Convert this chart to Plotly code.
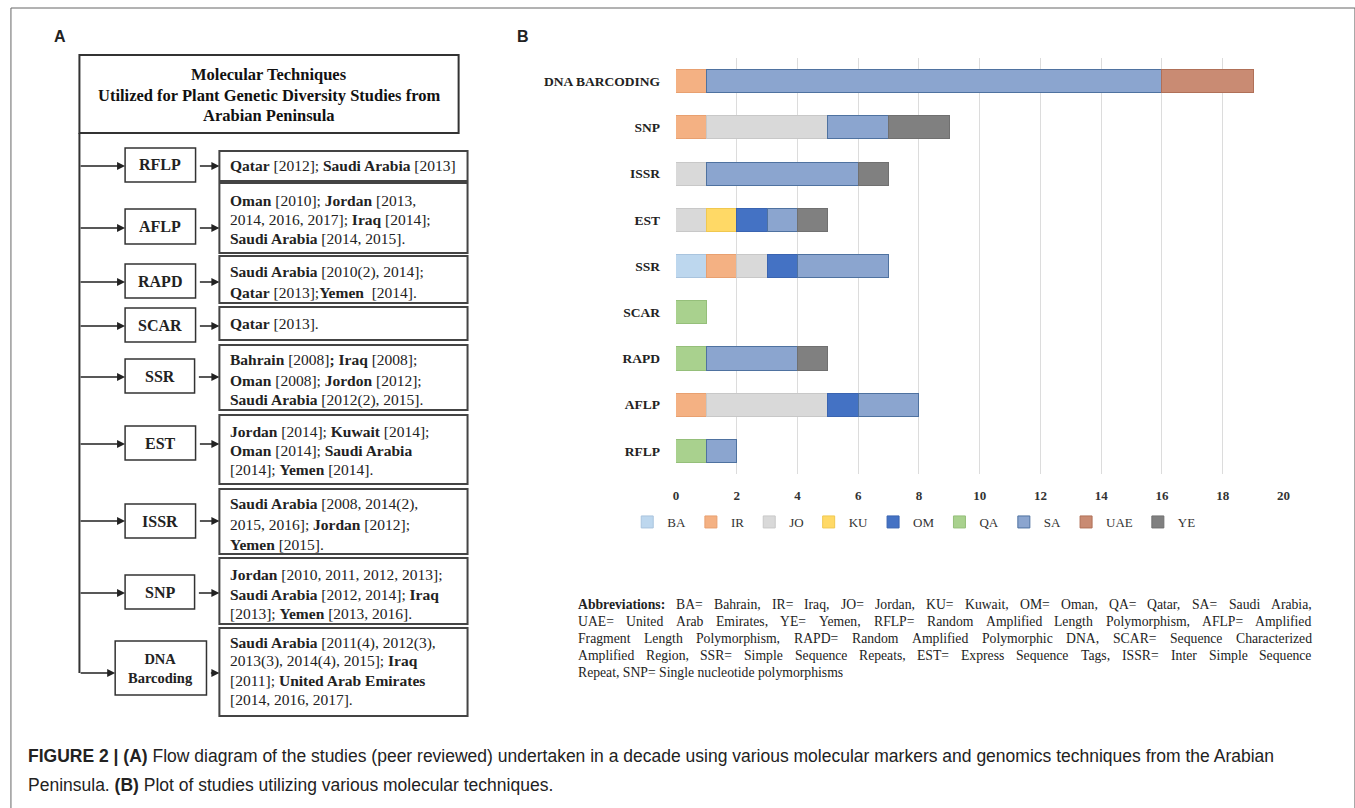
import plotly.graph_objects as go

# ---------------- data ----------------
techniques = ["RFLP", "AFLP", "RAPD", "SCAR", "SSR", "EST", "ISSR", "SNP", "DNA BARCODING"]
countries = ["BA", "IR", "JO", "KU", "OM", "QA", "SA", "UAE", "YE"]
BA = [0, 0, 0, 0, 1, 0, 0, 0, 0]
IR = [0, 1, 0, 0, 1, 0, 0, 1, 1]
JO = [0, 4, 0, 0, 1, 1, 1, 4, 0]
KU = [0, 0, 0, 0, 0, 1, 0, 0, 0]
OM = [0, 1, 0, 0, 1, 1, 0, 0, 0]
QA = [1, 0, 1, 1, 0, 0, 0, 0, 0]
SA = [1, 2, 3, 0, 3, 1, 5, 2, 15]
UAE = [0, 0, 0, 0, 0, 0, 0, 0, 3]
YE = [0, 0, 1, 0, 0, 1, 1, 2, 0]
series = [BA, IR, JO, KU, OM, QA, SA, UAE, YE]
x_ticks = [0, 2, 4, 6, 8, 10, 12, 14, 16, 18, 20]

colors = ["#BDD7EE", "#F4B183", "#D9D9D9", "#FFD966", "#4472C4", "#A9D18E", "#8BA5CF", "#C98B73", "#808080"]
edge_colors = ["#A9C4DE", "#E8A070", "#C8C8C8", "#F0C850", "#3A64B0", "#95BF7A", "#4F72A0", "#B07058", "#707070"]

flow_title = ["Molecular Techniques", "Utilized for Plant Genetic Diversity Studies from", "Arabian Peninsula"]
flow_techniques = ["RFLP", "AFLP", "RAPD", "SCAR", "SSR", "EST", "ISSR", "SNP", "DNA<br>Barcoding"]
flow_texts = [
    ["<b>Qatar</b> [2012]; <b>Saudi Arabia</b> [2013]"],
    ["<b>Oman</b> [2010]; <b>Jordan</b> [2013,", "2014, 2016, 2017]; <b>Iraq</b> [2014];", "<b>Saudi Arabia</b> [2014, 2015]."],
    ["<b>Saudi Arabia</b> [2010(2), 2014];", "<b>Qatar</b> [2013];<b>Yemen</b>  [2014]."],
    ["<b>Qatar</b> [2013]."],
    ["<b>Bahrain</b> [2008]<b>;</b> <b>Iraq</b> [2008];", "<b>Oman</b> [2008]; <b>Jordon</b> [2012];", "<b>Saudi Arabia</b> [2012(2), 2015]."],
    ["<b>Jordan</b> [2014]; <b>Kuwait</b> [2014];", "<b>Oman</b> [2014]; <b>Saudi Arabia</b>", "[2014]; <b>Yemen</b> [2014]."],
    ["<b>Saudi Arabia</b> [2008, 2014(2),", "2015, 2016]; <b>Jordan</b> [2012];", "<b>Yemen</b> [2015]."],
    ["<b>Jordan</b> [2010, 2011, 2012, 2013];", "<b>Saudi Arabia</b> [2012, 2014]; <b>Iraq</b>", "[2013]; <b>Yemen</b> [2013, 2016]."],
    ["<b>Saudi Arabia</b> [2011(4), 2012(3),", "2013(3), 2014(4), 2015]; <b>Iraq</b>", "[2011]; <b>United Arab Emirates</b>", "[2014, 2016, 2017]."],
]

abbrev_lines = [
    "<b>Abbreviations:</b> BA= Bahrain, IR= Iraq, JO= Jordan, KU= Kuwait, OM= Oman, QA= Qatar, SA= Saudi Arabia,",
    "UAE= United Arab Emirates, YE= Yemen, RFLP= Random Amplified Length Polymorphism, AFLP= Amplified",
    "Fragment Length Polymorphism, RAPD= Random Amplified Polymorphic DNA, SCAR=  Sequence Characterized",
    "Amplified Region, SSR= Simple Sequence Repeats, EST= Express Sequence Tags, ISSR= Inter Simple Sequence",
    "Repeat, SNP= Single nucleotide polymorphisms",
]
caption_lines = [
    "<b>FIGURE 2 | (A)</b> Flow diagram of the studies (peer reviewed) undertaken in a decade using various molecular markers and genomics techniques from the Arabian",
    "Peninsula. <b>(B)</b> Plot of studies utilizing various molecular techniques.",
]

# ---------------- layout geometry (pixels) ----------------
W, H = 1355, 808
def px(x):
    return x / W
def py(y):
    return 1 - y / H

SERIF = "Liberation Serif, Times New Roman, serif"
SANS = "Liberation Sans, Arial, sans-serif"

fig = go.Figure()
for name, vals, c, ec in zip(countries, series, colors, edge_colors):
    fig.add_trace(go.Bar(
        y=techniques, x=[v if v else None for v in vals], name=name, orientation="h",
        marker=dict(color=c, line=dict(color=ec, width=1)),
    ))

fig.update_layout(
    width=W, height=H, margin=dict(l=0, r=0, t=0, b=0),
    paper_bgcolor="white", plot_bgcolor="white",
    barmode="stack", bargap=0.5,
    showlegend=True,
    legend=dict(orientation="h", x=px(918), xanchor="center", y=py(522), yanchor="middle",
                font=dict(family=SERIF, size=13, color="#333"), itemwidth=30,
                traceorder="normal", bgcolor="rgba(0,0,0,0)"),
    xaxis=dict(domain=[px(678), px(1290)], range=[0, 20], tickvals=x_ticks,
               showgrid=True, gridcolor="#DCDCDC", gridwidth=1, zeroline=False, showline=False,
               ticks="", ticklabelstandoff=12,
               tickfont=dict(family=SERIF, size=13, color="#333", weight="bold")),
    yaxis=dict(domain=[py(474), py(58)], range=[-0.5, 8.5], type="category",
               categoryorder="array", categoryarray=techniques,
               showgrid=False, zeroline=False, showline=False, ticks="", ticklabelstandoff=15,
               tickfont=dict(family=SERIF, size=13.5, color="#222", weight="bold")),
)

shapes = []
annotations = []
LINE = "#333333"

def ann(x, y, text, size, family, xanchor="left", color="#222"):
    annotations.append(dict(xref="paper", yref="paper", x=px(x), y=py(y), text=text, showarrow=False,
                            xanchor=xanchor, yanchor="middle", borderpad=0, borderwidth=0,
                            font=dict(family=family, size=size, color=color)))

def arrow(x_from, x_to, y):
    annotations.append(dict(xref="paper", yref="paper", x=px(x_to), y=py(y), ax=-(x_to - x_from), ay=0,
                            text="", showarrow=True, arrowhead=2, arrowsize=1, arrowwidth=1.6,
                            arrowcolor="#222", standoff=0, startstandoff=0))

# outer frame (top + left visible)
shapes.append(dict(type="rect", xref="paper", yref="paper", x0=px(8), x1=px(1362), y0=py(830), y1=py(8),
                   line=dict(color="#666", width=1)))

# panel labels
ann(57, 36, "<b>A</b>", 16, SANS, "center")
ann(524, 36, "<b>B</b>", 16, SANS, "center")

# flow title box
shapes.append(dict(type="rect", xref="paper", yref="paper", x0=px(77), x1=px(459), y0=py(133), y1=py(55),
                   line=dict(color=LINE, width=2)))
for t, yy in zip(flow_title, [75, 95, 115]):
    ann(268, yy, "<b>" + t + "</b>", 16.5, SERIF, "center", "#111")

# rows geometry: (box_x0, box_x1, box_top, box_bot, tb_top, tb_bot, arrow_y, line ys)
rows = [
    (123, 194, 148, 182, 151, 181, 166, [166]),
    (123, 194, 209, 244, 183, 253, 228, [200, 219, 239]),
    (123, 194, 264, 298, 256, 303, 282, [272, 292]),
    (123, 194, 308, 342, 307, 340, 326, [323]),
    (123, 193, 359, 393, 345, 410, 377, [360, 380, 400]),
    (123, 194, 426, 460, 415, 484, 444, [431, 450, 470]),
    (123, 194, 504, 538, 489, 554, 521, [504, 524, 544]),
    (123, 193, 575, 609, 558, 624, 593, [574, 594, 613]),
    (113, 205, 641, 695, 628, 716, 673, [643, 661, 680, 699]),
]

# vertical trunk
shapes.append(dict(type="line", xref="paper", yref="paper", x0=px(77), x1=px(77), y0=py(133), y1=py(673),
                   line=dict(color=LINE, width=2)))

for tech, texts, (bx0, bx1, bt, bb, tt, tb, ay, lys) in zip(flow_techniques, flow_texts, rows):
    shapes.append(dict(type="rect", xref="paper", yref="paper", x0=px(bx0), x1=px(bx1), y0=py(bb), y1=py(bt),
                       line=dict(color=LINE, width=1.5)))
    shapes.append(dict(type="rect", xref="paper", yref="paper", x0=px(218), x1=px(468), y0=py(tb), y1=py(tt),
                       line=dict(color="#444", width=2)))
    fsize = 14.5 if "<br>" in tech else 16
    ann((bx0 + bx1) / 2, (bt + bb) / 2, "<b>" + tech + "</b>", fsize, SERIF, "center")
    arrow(77, bx0, ay)
    arrow(bx1 + 3, 218, ay)
    for t, yy in zip(texts, lys):
        ann(229, yy, t, 15.5, SERIF)

# ---- abbreviations paragraph (justified like the reference, Times metrics) ----
TNR = {' ': 250, 'a': 444, 'b': 500, 'c': 444, 'd': 500, 'e': 444, 'f': 333, 'g': 500, 'h': 500, 'i': 278,
       'j': 278, 'k': 500, 'l': 278, 'm': 778, 'n': 500, 'o': 500, 'p': 500, 'q': 500, 'r': 333, 's': 389,
       't': 278, 'u': 500, 'v': 500, 'w': 722, 'x': 500, 'y': 500, 'z': 444,
       'A': 722, 'B': 667, 'C': 667, 'D': 722, 'E': 611, 'F': 556, 'G': 722, 'H': 722, 'I': 333, 'J': 389,
       'K': 722, 'L': 611, 'M': 889, 'N': 722, 'O': 722, 'P': 556, 'Q': 722, 'R': 667, 'S': 556, 'T': 611,
       'U': 722, 'V': 722, 'W': 944, 'X': 722, 'Y': 722, 'Z': 611,
       ',': 250, '.': 250, '=': 564, ':': 278, ';': 278, '(': 333, ')': 333, '[': 333, ']': 333}
TNRB = {'A': 722, 'b': 556, 'r': 444, 'e': 444, 'v': 500, 'i': 278, 'a': 500, 't': 333, 'o': 500,
        'n': 556, 's': 389, ':': 333}

def word_width(w, size):
    bold = w.startswith("<b>")
    plain = w.replace("<b>", "").replace("</b>", "")
    table = TNRB if bold else TNR
    return sum(table.get(ch, TNR.get(ch, 500)) for ch in plain) * size / 1000.0

ABB_SIZE = 13.7
ABB_X0, ABB_X1 = 579, 1318
for i, (t, yy) in enumerate(zip(abbrev_lines, [604, 621, 638, 655, 672])):
    if i == len(abbrev_lines) - 1:
        ann(ABB_X0, yy, t, ABB_SIZE, SERIF)
        continue
    words = t.split()
    widths = [word_width(w, ABB_SIZE) for w in words]
    gap = (ABB_X1 - ABB_X0 - sum(widths)) / (len(words) - 1)
    xx = ABB_X0
    for w, ww in zip(words, widths):
        ann(xx, yy, w, ABB_SIZE, SERIF)
        xx += ww + gap

# caption
for t, yy in zip(caption_lines, [756, 785]):
    ann(25, yy, t, 17.5, SANS)

fig.update_layout(shapes=shapes, annotations=annotations)
fig.write_html("out.html", config={"displayModeBar": False},
               post_script="document.body.style.margin='0';document.body.style.overflow='hidden';")
